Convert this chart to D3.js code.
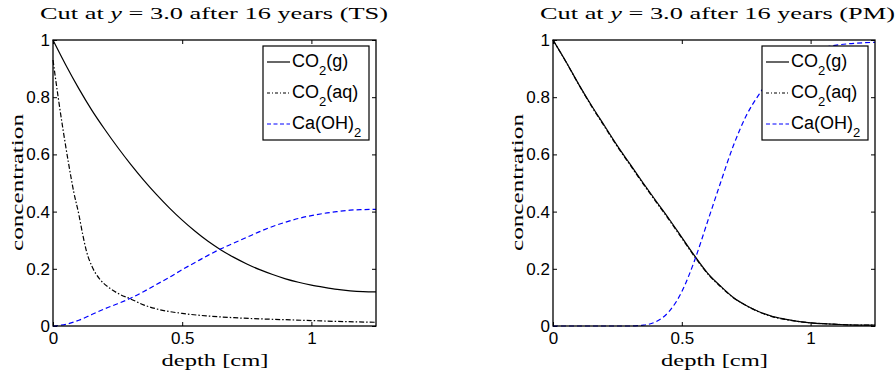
<!DOCTYPE html>
<html>
<head>
<meta charset="utf-8">
<script src="https://cdn.jsdelivr.net/npm/d3@7"></script>
<style>
body { margin: 0; background: #fff; }
svg { display: block; }
.tick text { font-family: "Liberation Sans", Arial, sans-serif; font-size: 17px; fill: #000; }
.tick line { stroke: #000; }
</style>
</head>
<body>
<svg></svg>
<script>
let width = 896
let height = 376

// shared depth grid [cm]
let depthGrid = [0, 0.05, 0.1, 0.15, 0.2, 0.25, 0.3, 0.35, 0.4, 0.45, 0.5, 0.55, 0.6,
    0.65, 0.7, 0.75, 0.8, 0.85, 0.9, 0.95, 1.0, 1.05, 1.1, 1.15, 1.2, 1.25]

// TS panel
let tsCO2g = [1, 0.912, 0.83, 0.755, 0.688, 0.625, 0.566, 0.511, 0.46, 0.413, 0.37, 0.331, 0.296,
    0.266, 0.24, 0.217, 0.197, 0.18, 0.165, 0.153, 0.143, 0.135, 0.128, 0.123, 0.12, 0.119]
let tsAqDepth = [0, 0.02, 0.04, 0.06, 0.08, 0.1, 0.115, 0.13, 0.15, 0.18, 0.22, 0.26, 0.3,
    0.35, 0.4, 0.5, 0.6, 0.7, 0.8, 0.9, 1.0, 1.1, 1.25]
let tsCO2aq = [0.93, 0.8, 0.68, 0.57, 0.47, 0.39, 0.32, 0.26, 0.21, 0.165, 0.132, 0.11, 0.095,
    0.074, 0.06, 0.044, 0.035, 0.029, 0.025, 0.022, 0.019, 0.016, 0.013]
let tsCaOH = [0, 0.006, 0.02, 0.04, 0.06, 0.078, 0.097, 0.12, 0.145, 0.17, 0.197, 0.222, 0.247,
    0.27, 0.29, 0.31, 0.33, 0.348, 0.363, 0.376, 0.386, 0.394, 0.4, 0.405, 0.407, 0.408]

// PM panel
let pmCO2g = [1, 0.925, 0.845, 0.77, 0.7, 0.63, 0.565, 0.5, 0.437, 0.375, 0.31, 0.245, 0.185,
    0.14, 0.1, 0.072, 0.05, 0.034, 0.024, 0.016, 0.011, 0.008, 0.006, 0.004, 0.003, 0.003]
let pmCO2aq = [1, 0.924, 0.844, 0.768, 0.697, 0.627, 0.562, 0.497, 0.434, 0.372, 0.307, 0.242, 0.183,
    0.138, 0.099, 0.071, 0.049, 0.033, 0.023, 0.016, 0.011, 0.008, 0.006, 0.004, 0.003, 0.003]
let pmCaOH = [0, 0, 0, 0, 0, 0, 0, 0.003, 0.015, 0.05, 0.12, 0.23, 0.365,
    0.5, 0.63, 0.735, 0.81, 0.87, 0.91, 0.94, 0.96, 0.973, 0.982, 0.987, 0.99, 0.992]

let xTicks = [0, 0.5, 1]
let yTicks = [0, 0.2, 0.4, 0.6, 0.8, 1]
let legendNames = [['CO', '2', '(g)'], ['CO', '2', '(aq)'], ['Ca(OH)', '2', '']]
let lineStyles = [
    { color: '#000', dash: null },
    { color: '#000', dash: '5,2,1.5,2' },
    { color: '#0000ff', dash: '5,3' }
]

let svg = d3.select('svg').attr('width', width).attr('height', height)
let serif = '"Liberation Serif", "Times New Roman", serif'

function drawPanel(left, right, tag, titleLen, series) {
    let x = d3.scaleLinear().domain([0, 1.25]).range([left, right])
    let y = d3.scaleLinear().domain([0, 1]).range([326, 40])
    let g = svg.append('g')

    g.append('g').attr('transform', 'translate(0,326)')
        .call(d3.axisBottom(x).tickValues(xTicks).tickSize(-4).tickPadding(6).tickFormat(d3.format('')))
    g.append('g').attr('transform', 'translate(0,40)')
        .call(d3.axisTop(x).tickValues(xTicks).tickSize(-4).tickFormat(''))
    g.append('g').attr('transform', `translate(${left},0)`)
        .call(d3.axisLeft(y).tickValues(yTicks).tickSize(-4).tickPadding(3).tickFormat(d3.format('')))
    g.append('g').attr('transform', `translate(${right},0)`)
        .call(d3.axisRight(y).tickValues(yTicks).tickSize(-4).tickFormat(''))
    g.selectAll('.domain').remove()
    g.selectAll('.tick text').attr('fill', '#000')

    let line = d3.line().x(d => x(d[0])).y(d => y(d[1])).curve(d3.curveMonotoneX)
    series.forEach((s, i) => {
        g.append('path')
            .datum(s.depth.map((d, j) => [d, s.values[j]]))
            .attr('d', line)
            .attr('fill', 'none')
            .attr('stroke', lineStyles[i].color)
            .attr('stroke-width', 1.2)
            .attr('stroke-dasharray', lineStyles[i].dash)
    })

    g.append('rect')
        .attr('x', left).attr('y', 40)
        .attr('width', right - left).attr('height', 286)
        .attr('fill', 'none').attr('stroke', '#000').attr('stroke-width', 1.3)

    // legend
    let lx = right - 113
    let leg = g.append('g')
    leg.append('rect')
        .attr('x', lx).attr('y', 46)
        .attr('width', 106).attr('height', 94)
        .attr('fill', '#fff').attr('stroke', '#000').attr('stroke-width', 1.2)
    legendNames.forEach((n, i) => {
        let cy = 62 + i * 31
        leg.append('line')
            .attr('x1', lx + 4).attr('x2', lx + 27)
            .attr('y1', cy).attr('y2', cy)
            .attr('stroke', lineStyles[i].color)
            .attr('stroke-width', 1.2)
            .attr('stroke-dasharray', i === 1 ? '3,2,1,2' : i === 2 ? '4,2.5' : null)
        let t = leg.append('text')
            .attr('x', lx + 29).attr('y', cy + 5)
            .style('font-family', '"Liberation Sans", Arial, sans-serif')
            .style('font-size', '18px')
        t.append('tspan').text(n[0])
        t.append('tspan').attr('dy', 8).style('font-size', '13px').text(n[1])
        if (n[2]) t.append('tspan').attr('dy', -8).text(n[2])
    })

    // title
    let title = g.append('text')
        .attr('x', left - 13).attr('y', 19)
        .attr('textLength', titleLen)
        .attr('lengthAdjust', 'spacingAndGlyphs')
        .style('font-family', serif)
        .style('font-size', '16.5px')
    title.append('tspan').text('Cut at ')
    title.append('tspan').style('font-style', 'italic').text('y')
    title.append('tspan').text(` = 3.0 after 16 years (${tag})`)

    g.append('text')
        .attr('x', (left + right) / 2 - 53).attr('y', 366)
        .attr('textLength', 107)
        .attr('lengthAdjust', 'spacingAndGlyphs')
        .style('font-family', serif)
        .style('font-size', '16.5px')
        .text('depth [cm]')

    g.append('text')
        .attr('transform', `translate(${left - 30},251) rotate(-90)`)
        .attr('textLength', 137)
        .attr('lengthAdjust', 'spacingAndGlyphs')
        .style('font-family', serif)
        .style('font-size', '16.5px')
        .text('concentration')
}

drawPanel(53, 376, 'TS', 348, [
    { depth: depthGrid, values: tsCO2g },
    { depth: tsAqDepth, values: tsCO2aq },
    { depth: depthGrid, values: tsCaOH }
])
drawPanel(553, 875, 'PM', 355, [
    { depth: depthGrid, values: pmCO2g },
    { depth: depthGrid, values: pmCO2aq },
    { depth: depthGrid, values: pmCaOH }
])
</script>
</body>
</html>
